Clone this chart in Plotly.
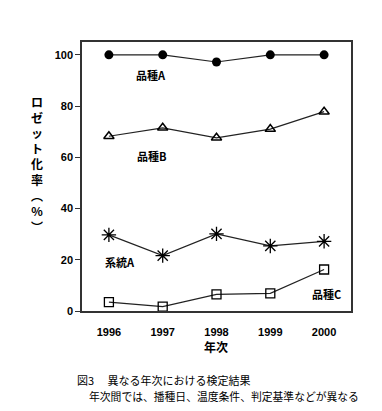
import plotly.graph_objects as go

years = [1996, 1997, 1998, 1999, 2000]
hinshu_a = [100, 100, 97.2, 100, 100]
hinshu_b = [68.2, 71.5, 67.6, 71.0, 77.8]
keito_a = [29.7, 21.6, 30.1, 25.4, 27.2]
hinshu_c = [3.5, 1.7, 6.5, 6.9, 16.2]
y_ticks = [0, 20, 40, 60, 80, 100]

JP = "Noto Sans CJK JP"
line = dict(color="#222", width=1.2)

fig = go.Figure()
fig.add_trace(go.Scatter(x=years, y=hinshu_a, mode="lines+markers", line=line,
                         marker=dict(symbol="circle", size=9, color="black")))
fig.add_trace(go.Scatter(x=years, y=hinshu_b, mode="lines+markers", line=line,
                         marker=dict(symbol="triangle-up-open", size=9, color="black",
                                     line=dict(width=1.5, color="black"))))
fig.add_trace(go.Scatter(x=years, y=keito_a, mode="lines+markers", line=line,
                         marker=dict(symbol="asterisk-open", size=12, color="black",
                                     line=dict(width=1.3, color="black"))))
fig.add_trace(go.Scatter(x=years, y=hinshu_c, mode="lines+markers", line=line,
                         marker=dict(symbol="square-open", size=9, color="black",
                                     line=dict(width=1.3, color="black"))))

labels = [("品種A", 1996.78, 92), ("品種B", 1996.8, 60.4),
          ("系統A", 1996.2, 19.3), ("品種C", 2000.04, 6.8)]
anns = [dict(x=x, y=y, xref="x", yref="y", text=f"<b>{t}</b>", showarrow=False,
             font=dict(family=JP, size=11, color="black")) for t, x, y in labels]

ytitle = "<br>".join(list("ロゼット化率") + ["︵", "%", "︶"])
anns.append(dict(x=-0.167, y=0.545, xref="paper", yref="paper", text=f"<b>{ytitle}</b>",
                 showarrow=False, font=dict(family=JP, size=12, color="black"),
                 xanchor="center", yanchor="middle"))
anns.append(dict(x=(216 - 82) / 269, y=(311 - 346) / 269, xref="paper", yref="paper",
                 text="<b>年次</b>", showarrow=False, yanchor="middle",
                 font=dict(family=JP, size=12, color="black")))
anns.append(dict(x=(75 - 82) / 269, y=(311 - 380) / 269, xref="paper", yref="paper",
                 text="図3　 異なる年次における検定結果", showarrow=False, xanchor="left",
                 yanchor="middle", font=dict(family=JP, size=11, color="black")))
anns.append(dict(x=(87 - 82) / 269, y=(311 - 396) / 269, xref="paper", yref="paper",
                 text="年次間では、播種日、温度条件、判定基準などが異なる", showarrow=False,
                 xanchor="left", yanchor="middle",
                 font=dict(family=JP, size=10.8, color="black")))

fig.update_layout(
    width=382, height=411, margin=dict(l=82, r=31, t=42, b=100),
    paper_bgcolor="white", plot_bgcolor="white", showlegend=False,
    annotations=anns,
    xaxis=dict(range=[1995.5, 2000.5], tickvals=years, ticks="outside", ticklen=10,
               tickcolor="rgba(0,0,0,0)", showgrid=False,
               zeroline=False, showline=True, linecolor="#333", linewidth=1.5, mirror=True,
               tickfont=dict(family="Liberation Sans", size=11, color="black", weight="bold")),
    yaxis=dict(range=[0, 105], tickvals=y_ticks, ticks="outside", ticklen=5,
               tickcolor="#333", showgrid=False, zeroline=False, showline=True,
               linecolor="#333", linewidth=1.5, mirror=True,
               tickfont=dict(family="Liberation Sans", size=11, color="black", weight="bold")),
)
fig.write_html("out.html", config={"displayModeBar": False},
               post_script="document.body.style.margin='0';")
